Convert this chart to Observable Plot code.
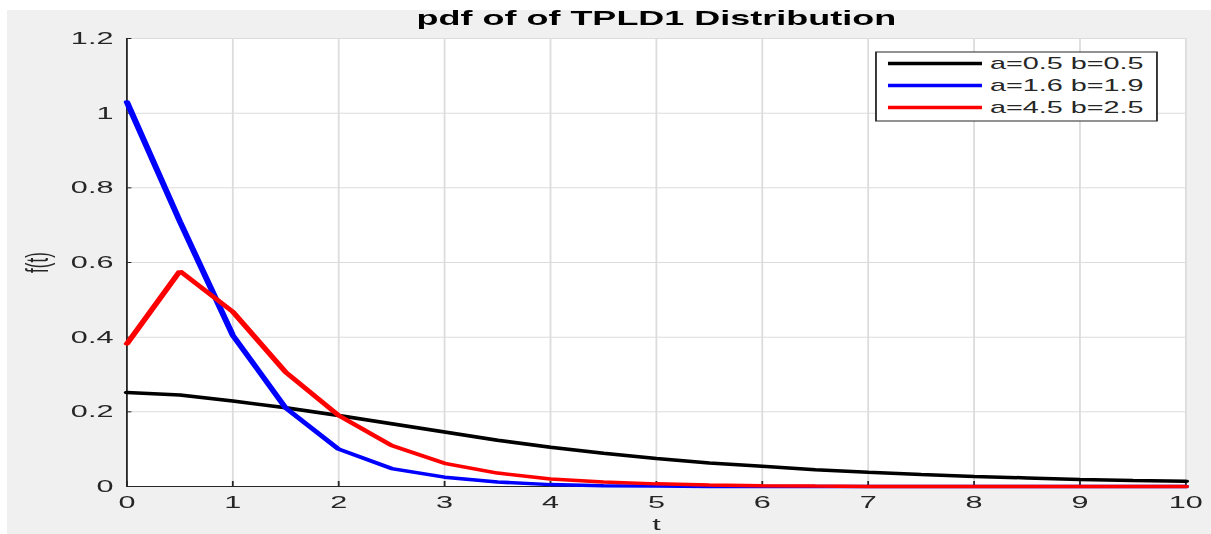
<!DOCTYPE html>
<html><head><meta charset="utf-8">
<script src="https://cdn.jsdelivr.net/npm/d3@7"></script>
<script src="https://cdn.jsdelivr.net/npm/@observablehq/plot@0.6"></script>
<style>
html,body{margin:0;padding:0;background:#fff;width:1211px;height:534px;overflow:hidden}
#bg{position:absolute;left:7px;top:10px;width:1204px;height:524px;background:#f0f0f0}
#chart{position:absolute;left:0;top:0;transform-origin:0 0;transform:scaleX(1.8)}
#chart svg{overflow:visible}
</style></head><body><div id="bg"></div><div id="chart"></div>
<script>
// ---- data ----
const tValues = [0,0.5,1,1.5,2,2.5,3,3.5,4,4.5,5,5.5,6,6.5,7,7.5,8,8.5,9,9.5,10];
const seriesNames = ["a=0.5 b=0.5","a=1.6 b=1.9","a=4.5 b=2.5"];
const seriesColors = ["#000000","#0000ff","#ff0000"];
const blackValues = [0.252,0.245,0.229,0.211,0.190,0.168,0.146,0.124,0.105,0.089,0.075,0.063,0.054,0.045,0.038,0.032,0.027,0.023,0.019,0.016,0.014];
const blueValues  = [1.03,0.71,0.405,0.21,0.10,0.048,0.025,0.012,0.005,0.002,0.001,0,0,0,0,0,0,0,0,0,0];
const redValues   = [0.382,0.577,0.468,0.306,0.19,0.11,0.062,0.036,0.02,0.012,0.007,0.004,0.002,0.001,0,0,0,0,0,0,0];
const xTicks = [0,1,2,3,4,5,6,7,8,9,10];
const xTickLabels = ["0","1","2","3","4","5","6","7","8","9","10"];
const yTicks = [0,0.2,0.4,0.6,0.8,1,1.2];
const yTickLabels = ["0","0.2","0.4","0.6","0.8","1","1.2"];
const titleText = "pdf of of TPLD1 Distribution";
const xLabel = "t";
const yLabel = "f(t)";

// ---- build ----
const SX = 1.8;
const W = 1211 / SX;
const rows = [];
[blackValues, blueValues, redValues].forEach((vals, k) =>
  vals.forEach((v, i) => rows.push({t: tValues[i], f: v, s: seriesNames[k]})));
const xLab = new Map(xTicks.map((v, i) => [v, xTickLabels[i]]));
const yLab = new Map(yTicks.map((v, i) => [v, yTickLabels[i]]));
const font = "'Liberation Sans', Arial, Helvetica, sans-serif";
const axisColor = "#262626";

const plot = Plot.plot({
  width: W, height: 534,
  marginLeft: 126 / SX, marginRight: 26 / SX, marginTop: 38, marginBottom: 48,
  style: {background: "transparent", fontFamily: font, overflow: "visible"},
  x: {domain: [0, 10]},
  y: {domain: [0, 1.2]},
  color: {domain: seriesNames, range: seriesColors},
  marks: [
    Plot.frame({fill: "white", stroke: null}),
    Plot.gridX(xTicks, {stroke: "#dcdcdc", strokeOpacity: 1}),
    Plot.gridY(yTicks, {stroke: "#dcdcdc", strokeOpacity: 1}),
    Plot.ruleX([xTicks[0]], {stroke: axisColor, strokeWidth: 1}),
    Plot.ruleY([yTicks[0]], {stroke: axisColor, strokeWidth: 1}),
    Plot.axisX(xTicks, {tickSize: -5, fill: "none", stroke: axisColor, label: null}),
    Plot.axisY(yTicks, {tickSize: -3, fill: "none", stroke: axisColor, label: null}),
    Plot.axisX(xTicks, {tickSize: 0, tickPadding: 9, fontSize: 17, fill: axisColor,
      tickFormat: d => xLab.get(d), label: xLabel, labelAnchor: "center", labelOffset: 44, labelArrow: "none"}),
    Plot.axisY(yTicks, {tickSize: 0, tickPadding: 7.5, fontSize: 17, fill: axisColor,
      tickFormat: d => yLab.get(d), label: yLabel, labelAnchor: "center", labelOffset: 56, labelArrow: "none"}),
    Plot.line(rows, {x: "t", y: "f", z: "s", stroke: "s", strokeWidth: 3.5, strokeLinejoin: "miter"}),
    Plot.text([titleText], {text: d => d, frameAnchor: "top", dy: -20, lineAnchor: "middle",
      fontSize: 20, fontWeight: "bold", fill: "black"})
  ]
});
document.getElementById("chart").appendChild(plot);

// ---- legend (inside the axes, top-right) ----
const svg = d3.select(plot);
const lg = svg.append("g").attr("font-family", font).attr("font-size", 16).attr("text-anchor", "start");
const bx0 = 876 / SX, bx1 = 1157 / SX;
lg.append("rect").attr("x", bx0).attr("y", 52).attr("width", bx1 - bx0).attr("height", 69)
  .attr("fill", "white").attr("stroke", axisColor).attr("stroke-width", 1);
const rowY = [63.5, 85.5, 107.5];
seriesNames.forEach((name, i) => {
  lg.append("line").attr("x1", 888 / SX).attr("x2", 982 / SX).attr("y1", rowY[i]).attr("y2", rowY[i])
    .attr("stroke", seriesColors[i]).attr("stroke-width", 3.5);
  lg.append("text").attr("x", 990 / SX).attr("y", rowY[i]).attr("dy", "0.35em")
    .attr("text-anchor", "start").attr("fill", axisColor).text(name);
});
</script>
</body></html>
